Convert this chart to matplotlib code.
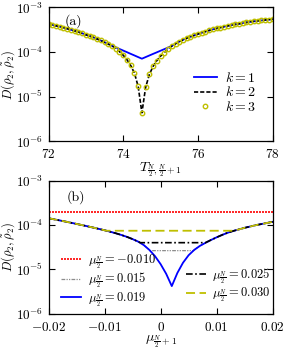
import numpy as np
import matplotlib
matplotlib.use('Agg')
import matplotlib.pyplot as plt
from matplotlib.lines import Line2D

plt.rcParams['font.family'] = 'serif'
plt.rcParams['font.serif'] = ['cmr10', 'DejaVu Serif']
plt.rcParams['mathtext.fontset'] = 'cm'
plt.rcParams['axes.formatter.use_mathtext'] = True
plt.rcParams['font.size'] = 10

### PANEL (a) DATA, log10 of D
T = np.linspace(72, 78, 61)  # 72.0 ... 78.0, step 0.1

log_d_k2 = [-3.37, -3.39, -3.41, -3.43, -3.45, -3.475, -3.50, -3.525, -3.55, -3.58,
            -3.61, -3.64, -3.67, -3.705, -3.74, -3.78, -3.82, -3.86, -3.92, -3.99,
            -4.07, -4.17, -4.30, -4.47, -4.77, -5.36, -4.79, -4.50, -4.32, -4.19,
            -4.09, -4.01, -3.93, -3.865, -3.81, -3.765, -3.725, -3.69, -3.655, -3.625,
            -3.595, -3.565, -3.54, -3.515, -3.49, -3.47, -3.45, -3.43, -3.41, -3.395,
            -3.38, -3.365, -3.35, -3.335, -3.32, -3.31, -3.30, -3.29, -3.28, -3.27,
            -3.26]

log_d_k1 = [-3.37, -3.39, -3.41, -3.43, -3.45, -3.475, -3.50, -3.525, -3.55, -3.58,
            -3.61, -3.64, -3.67, -3.705, -3.74, -3.78, -3.82, -3.86, -3.893, -3.930,
            -3.966, -4.002, -4.039, -4.075, -4.112, -4.148, -4.112, -4.076, -4.040, -4.005,
            -3.969, -3.934, -3.898, -3.865, -3.81, -3.765, -3.725, -3.69, -3.655, -3.625,
            -3.595, -3.565, -3.54, -3.515, -3.49, -3.47, -3.45, -3.43, -3.41, -3.395,
            -3.38, -3.365, -3.35, -3.335, -3.32, -3.31, -3.30, -3.29, -3.28, -3.27,
            -3.26]

log_d_k3 = log_d_k2  # k=3 sits on top of k=2

### PANEL (b) DATA
mu = np.linspace(-0.02, 0.02, 41)  # step 0.001
log_d_019 = [-3.843, -3.868, -3.893, -3.918, -3.945, -3.972, -3.999, -4.027, -4.055, -4.085,
             -4.115, -4.148, -4.183, -4.222, -4.265, -4.315, -4.372, -4.45, -4.56, -4.70,
             -4.88, -5.10, -5.378, -5.08, -4.85, -4.68, -4.56, -4.47, -4.40, -4.335,
             -4.275, -4.22, -4.17, -4.13, -4.095, -4.06, -4.03, -4.00, -3.975, -3.95,
             -3.924]

mu_m010 = [-0.02, 0.02]
log_d_m010 = [-3.708, -3.708]

mu_015 = [-0.020, -0.019, -0.018, -0.017, -0.016, -0.015, -0.014, -0.013, -0.012, -0.011,
          -0.010, -0.009, -0.008, -0.007, -0.006, -0.005, -0.004, -0.003, -0.002, -0.0019,
          0.0059, 0.006, 0.007, 0.008, 0.009, 0.010, 0.011, 0.012, 0.013, 0.014,
          0.015, 0.016, 0.017, 0.018, 0.019, 0.020]
log_d_015 = [-3.843, -3.868, -3.893, -3.918, -3.945, -3.972, -3.999, -4.027, -4.055, -4.085,
             -4.115, -4.148, -4.183, -4.222, -4.265, -4.315, -4.372, -4.45, -4.56, -4.576,
             -4.576, -4.56, -4.47, -4.40, -4.335, -4.275, -4.22, -4.17, -4.13, -4.095,
             -4.06, -4.03, -4.00, -3.975, -3.95, -3.924]

mu_025 = [-0.020, -0.019, -0.018, -0.017, -0.016, -0.015, -0.014, -0.013, -0.012, -0.011,
          -0.010, -0.009, -0.008, -0.007, -0.006, -0.005, -0.004, -0.0036,
          0.008, 0.009, 0.010, 0.011, 0.012, 0.013, 0.014,
          0.015, 0.016, 0.017, 0.018, 0.019, 0.020]
log_d_025 = [-3.843, -3.868, -3.893, -3.918, -3.945, -3.972, -3.999, -4.027, -4.055, -4.085,
             -4.115, -4.148, -4.183, -4.222, -4.265, -4.315, -4.372, -4.396,
             -4.396, -4.335, -4.275, -4.22, -4.17, -4.13, -4.095,
             -4.06, -4.03, -4.00, -3.975, -3.95, -3.924]

mu_030 = [-0.020, -0.019, -0.018, -0.017, -0.016, -0.015, -0.014, -0.013, -0.012, -0.011,
          -0.010, -0.0097, 0.0131, 0.014,
          0.015, 0.016, 0.017, 0.018, 0.019, 0.020]
log_d_030 = [-3.843, -3.868, -3.893, -3.918, -3.945, -3.972, -3.999, -4.027, -4.055, -4.085,
             -4.115, -4.126, -4.126, -4.095,
             -4.06, -4.03, -4.00, -3.975, -3.95, -3.924]

yellow = (0.75, 0.75, 0.0)
ylab = r'$D(\rho_2,\tilde{\rho}_2)$'

fig = plt.figure(figsize=(2.87, 3.5), dpi=100)
ax1 = fig.add_axes([0.169, 0.5963, 0.781, 0.3823])
ax2 = fig.add_axes([0.169, 0.1040, 0.781, 0.3790])

for ax in (ax1, ax2):
    ax.set_yscale('log')
    ax.set_ylim(1e-6, 1e-3)
    ax.tick_params(direction='in', top=True, right=True, length=4, width=0.8, pad=4,
                   labelsize=9.5)
    ax.tick_params(axis='x', pad=5)
    ax.tick_params(which='minor', left=False, right=False)
    for s in ax.spines.values():
        s.set_linewidth(0.9)
    ax.set_ylabel(ylab, fontsize=9)
    ax.yaxis.set_label_coords(-0.14, 0.5)

# (a)
ax1.plot(T, 10**np.array(log_d_k1), color='b', lw=1.3, label=r'$k=1$')
ax1.plot(T, 10**np.array(log_d_k2), color='k', lw=1.2, ls=(0, (2.5, 1.2)), label=r'$k=2$')
ax1.plot(T, 10**np.array(log_d_k3), ls='none', marker='o', ms=3.2, mfc='none',
         mec=yellow, mew=1.0, label=r'$k=3$')
ax1.set_xlim(72, 78)
ax1.set_xticks([72, 74, 76, 78])
ax1.set_xlabel(r'$T_{\frac{N}{2},\frac{N}{2}+1}$', labelpad=-1)
ax1.text(0.07, 0.95, '(a)', transform=ax1.transAxes, ha='left', va='top')
ax1.legend(loc='lower right', frameon=False, handlelength=1.6, handletextpad=0.6,
           labelspacing=0.05, borderaxespad=0.3, bbox_to_anchor=(0.97, 0.13))

# (b)
ax2.plot(mu_m010, 10**np.array(log_d_m010), color='r', lw=1.2, ls=(0, (1.2, 0.6)),
         label=r'$\mu_{\frac{N}{2}}=-0.010$')
ax2.plot(mu_015, 10**np.array(log_d_015), color='0.55', lw=0.9, ls=(0, (3, 1, 1, 1, 1, 1)),
         label=r'$\mu_{\frac{N}{2}}=0.015$')
ax2.plot(mu, 10**np.array(log_d_019), color='b', lw=1.3, label=r'$\mu_{\frac{N}{2}}=0.019$')
ax2.plot(mu_025, 10**np.array(log_d_025), color='k', lw=1.2, ls=(0, (4, 1.5, 1, 1.5)),
         label=r'$\mu_{\frac{N}{2}}=0.025$')
ax2.plot(mu_030, 10**np.array(log_d_030), color=yellow, lw=1.3, ls=(0, (5, 2.5)),
         label=r'$\mu_{\frac{N}{2}}=0.030$')
ax2.set_xlim(-0.02, 0.02)
ax2.set_xticks([-0.02, -0.01, 0, 0.01, 0.02])
ax2.set_xticklabels(['$-0.02$', '$-0.01$', '$0$', '$0.01$', '$0.02$'])
ax2.set_xlabel(r'$\mu_{\frac{N}{2}+1}$', labelpad=0)
ax2.text(0.08, 0.93, '(b)', transform=ax2.transAxes, ha='left', va='top')

h, l = ax2.get_legend_handles_labels()
blank = Line2D([], [], ls='none')
handles = [h[0], h[1], h[2], blank, h[3], h[4]]
labels = [l[0], l[1], l[2], '', l[3], l[4]]
ax2.legend(handles, labels, ncol=2, loc='lower left', frameon=False, handlelength=1.6,
           handletextpad=0.5, labelspacing=0.0, columnspacing=2.4,
           borderaxespad=0.1, bbox_to_anchor=(0.03, -0.01), fontsize=9)

fig.savefig('out.png', dpi=100)
